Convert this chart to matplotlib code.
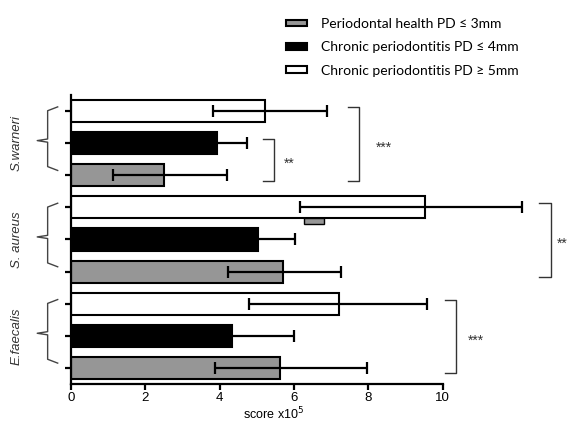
import matplotlib
matplotlib.use("Agg")
import matplotlib.pyplot as plt
from matplotlib.patches import Patch, Rectangle

plt.rcParams['font.family'] = ['Liberation Sans', 'DejaVu Sans']

# groups from bottom to top
species = ['E.faecalis', 'S. aureus', 'S.warneri']
series = ['Periodontal health PD ≤ 3mm',
          'Chronic periodontitis PD ≤ 4mm',
          'Chronic periodontitis PD ≥ 5mm']

health = [5.63, 5.70, 2.52]
health_lo = [1.75, 1.48, 1.37]
health_hi = [2.34, 1.57, 1.67]

pd4 = [4.33, 5.03, 3.93]
pd4_err = [1.68, 1.01, 0.80]

pd5 = [7.21, 9.52, 5.22]
pd5_lo = [2.41, 3.36, 1.40]
pd5_hi = [2.36, 2.60, 1.68]

colors = ['#969696', 'black', 'white']

# significance: (group, first bar, last bar, label, bracket x, label x)
sig = [(2, 0, 1, '**', 5.16, 5.87),
       (2, 0, 2, '***', 7.45, 8.42),
       (1, 0, 2, '**', 12.6, 13.2),
       (0, 0, 2, '***', 10.06, 10.9)]

fig = plt.figure(figsize=(5.67, 4.26), dpi=100)
ax = fig.add_axes([0.1247, 0.0986, 0.6561, 0.6784])

values = [health, pd4, pd5]
lows = [health_lo, pd4_err, pd5_lo]
highs = [health_hi, pd4_err, pd5_hi]
for k in range(3):
    pos = [g * 3 + k for g in range(len(species))]
    ax.barh(pos, values[k], height=0.69, color=colors[k], edgecolor='black',
            linewidth=1.5, zorder=2)
    ax.errorbar(values[k], pos, xerr=[lows[k], highs[k]], fmt='none',
                ecolor='black', elinewidth=1.6, capsize=4, capthick=1.6,
                clip_on=False, zorder=3)

# small stray gray box inside the S. aureus white bar
ax.add_patch(Rectangle((6.28, 4.49), 0.54, 0.18, facecolor='#969696',
                       edgecolor='black', linewidth=1.0, zorder=4))

ax.set_xlim(0, 10)
ax.set_ylim(-0.5, 8.5)
ax.set_xticks([0, 2, 4, 6, 8, 10])
ax.set_yticks(range(9))
ax.set_yticklabels([])
ax.tick_params(axis='both', direction='out', length=4, width=1.6,
               labelsize=9.5, pad=2)
for s in ['top', 'right']:
    ax.spines[s].set_visible(False)
for s in ['left', 'bottom']:
    ax.spines[s].set_linewidth(1.6)
ax.set_xlabel('score x10$^5$', fontsize=9)
ax.xaxis.set_label_coords(0.545, -0.075)

# right-hand significance brackets
for g, a, b, lab, x0, xt in sig:
    y0 = g * 3 + a - 0.17
    y1 = g * 3 + b + 0.13
    x1 = x0 + 0.3
    ax.plot([x0, x1, x1, x0], [y1, y1, y0, y0], color='#333333', lw=1.0,
            clip_on=False)
    ym = (y0 + y1) / 2
    ax.text(xt, ym - 0.12, lab, fontsize=10, color='#333333',
            ha='center', va='center', clip_on=False)

# left curly braces and species labels
for g, name in enumerate(species):
    top = g * 3 + 2.13
    bot = g * 3 + 0.15
    mid = g * 3 + 1.08
    xv = -0.62
    ax.plot([-0.35, xv, xv, -0.9, xv, xv, -0.35],
            [top, top - 0.12, mid + 0.05, mid, mid - 0.05, bot + 0.12, bot],
            color='#444444', lw=1.0, clip_on=False)
    ax.text(-1.45, g * 3 + 1.0, name, rotation=90, style='italic',
            fontsize=9.5, color='#333333', ha='center', va='center',
            clip_on=False)

handles = [Patch(facecolor=c, edgecolor='black', linewidth=1.5) for c in colors]
fig.legend(handles, series, loc='upper left', bbox_to_anchor=(0.505, 0.958),
           frameon=False, prop={'family': ['Lato', 'DejaVu Sans'], 'size': 10},
           handlelength=1.5, handleheight=0.35, handletextpad=1.0,
           labelspacing=0.82, borderpad=0, borderaxespad=0)

fig.savefig('out.png', dpi=100)
